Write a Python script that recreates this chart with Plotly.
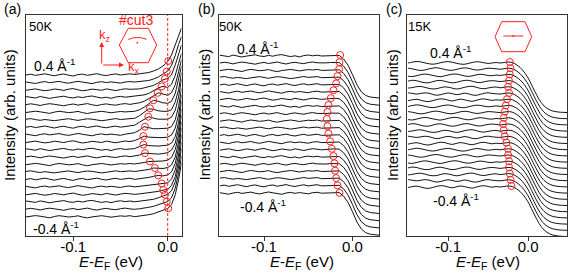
import plotly.graph_objects as go

W, H = 568, 274
FONT = "Arial, 'Liberation Sans', sans-serif"

# ---------------- data ----------------
# energy grid of the flat (noisy) part, eV
E_flat = [-0.150, -0.145, -0.140, -0.135, -0.130, -0.125, -0.120, -0.115, -0.110, -0.105,
          -0.100, -0.095, -0.090, -0.085, -0.080, -0.075, -0.070, -0.065, -0.060, -0.055,
          -0.050, -0.045, -0.040]

# hand-read wiggles of the flat part (arb. units)
wig_ab = [
    [0.0, 0.8, -0.4, 0.6, 1.2, 0.2, -0.8, 0.3, 1.0, -0.2, -1.0, 0.4, 0.9, -0.3, 0.5, 1.3, 0.1, -0.6, 0.4, 1.1, 0.0, 0.7, 1.2],
    [0.5, -0.3, -1.0, 0.2, 0.9, -0.2, 0.6, 1.1, 0.0, -0.7, 0.3, 1.2, 0.4, -0.5, -1.1, 0.2, 0.8, -0.1, 0.6, 0.0, -0.6, 0.5, 0.9],
    [-0.4, 0.6, 1.0, 0.0, -0.8, -0.2, 0.9, 0.3, -0.5, 0.7, 1.3, 0.1, -0.9, -0.2, 0.8, 0.2, -0.4, 1.0, 0.5, -0.7, 0.3, 1.1, 0.6],
    [0.8, 0.1, -0.6, 0.9, 0.2, -1.0, -0.1, 0.7, 1.2, 0.0, -0.5, 0.6, -0.2, 0.9, 1.4, 0.3, -0.6, 0.2, -0.9, 0.4, 1.0, 0.2, 0.8],
    [0.2, 1.0, 0.3, -0.7, 0.4, 1.1, 0.5, -0.4, -1.0, 0.1, 0.8, -0.3, 0.5, 1.2, 0.0, -0.8, 0.3, 0.9, 0.1, -0.4, 0.6, 1.2, 0.4],
    [-0.2, 0.4, 1.1, 0.5, -0.6, -1.1, 0.2, 1.0, 0.4, -0.3, 0.1, 0.9, -0.4, -1.2, -0.2, 0.7, 1.0, 0.3, -0.5, 0.2, 0.8, 0.4, 1.0],
    [0.6, 1.2, 0.2, -0.5, 0.3, 0.0, -0.9, -0.2, 0.6, 1.1, 0.2, -0.6, 0.3, 1.0, 0.6, -0.2, -0.9, -0.3, 0.7, 1.2, 0.3, 0.5, 1.1],
]
wig_c = [
    [0.0, 0.8, 1.5, 1.2, 0.3, -0.6, -1.2, -0.8, 0.2, 1.0, 1.4, 0.8, -0.2, -1.0, -1.3, -0.5, 0.5, 1.2, 1.0, 0.2, -0.4, 0.0, 0.5],
    [1.0, 0.4, -0.5, -1.2, -0.9, 0.1, 1.0, 1.5, 0.9, -0.1, -0.9, -1.1, -0.3, 0.7, 1.3, 1.0, 0.0, -0.8, -0.6, 0.3, 1.0, 0.8, 0.4],
    [-0.8, -1.2, -0.4, 0.6, 1.3, 1.0, 0.1, -0.7, -1.3, -0.6, 0.4, 1.2, 1.4, 0.6, -0.4, -1.0, -0.5, 0.5, 1.1, 0.7, -0.1, -0.3, 0.3],
    [0.5, 1.3, 1.0, -0.1, -1.0, -1.2, -0.3, 0.8, 1.2, 0.5, -0.5, -1.2, -0.8, 0.3, 1.1, 1.3, 0.4, -0.6, -1.0, -0.2, 0.6, 0.9, 0.6],
    [-0.3, 0.2, 1.0, 1.4, 0.7, -0.4, -1.1, -1.0, 0.0, 0.9, 0.6, -0.3, -1.2, -0.7, 0.4, 1.2, 1.5, 0.6, -0.5, -0.9, -0.2, 0.5, 0.8],
    [1.2, 0.6, 0.0, 0.4, 1.1, 0.9, -0.2, -1.2, -0.8, 0.3, 1.0, 0.4, -0.6, -0.2, 0.8, 0.3, -0.9, -1.3, -0.4, 0.7, 1.2, 0.6, 0.2],
    [-0.5, 0.3, 0.9, 0.2, -0.9, -1.4, -0.6, 0.5, 1.3, 1.1, 0.0, -0.8, 0.1, 1.0, 0.5, -0.5, -1.1, -0.2, 0.9, 1.3, 0.5, -0.2, 0.4],
]

# ---- panel (a): 50K, #cut3 ----
E_near_a = [-0.035, -0.030, -0.025, -0.020, -0.015, -0.010, -0.005, 0.000, 0.004, 0.008, 0.0115, 0.0146]
lvl_a = [161.0, 153.5, 146.1, 138.6, 131.2, 123.7, 116.2, 108.8, 101.3, 93.9,
         86.4, 78.9, 71.5, 64.0, 56.6, 49.1, 41.6, 34.2, 26.7, 19.3]
near_a = [
    [0.5, 1, 1.5, 2.5, 4, 6, 9, 13.5, 20, 30, 40, 47],
    [0.5, 1, 1.5, 2, 3.5, 5.5, 8.5, 11.5, 17, 27, 38, 46],
    [0.5, 1, 2, 3, 4.5, 7, 10, 11.5, 15, 25, 36, 45],
    [1, 1.5, 2.5, 4, 6.5, 9.5, 11, 10, 13, 22, 34, 44],
    [1, 2, 3.5, 6, 9, 12, 11, 9.5, 12, 20, 33, 45],
    [1, 2.5, 5, 8.5, 12, 11, 9.5, 9, 11, 19, 32, 46],
    [1.5, 4, 7.5, 11, 10.5, 9, 8.5, 8.5, 10, 18, 30, 47],
    [2, 5, 8, 10.5, 9, 8, 8, 8, 10, 17, 30, 48],
    [2, 4.5, 8, 7, 6, 6, 6, 6.5, 8, 15, 28, 46],
    [1.5, 3.5, 6, 5, 4.5, 4.5, 4.5, 5, 7, 14, 27, 47],
    [1, 3, 5, 4, 3.5, 3.5, 4, 4.5, 6.5, 13, 27, 48],
    [1, 2, 4, 3.5, 3, 3, 3.5, 4.5, 7, 14, 28, 48],
    [0.5, 1, 2, 3, 3, 3, 3.5, 4.5, 7, 15, 29, 49],
    [0.5, 1, 1.5, 2.5, 4, 3.5, 3.5, 4.5, 7, 15, 30, 50],
    [0, 0.5, 1, 2, 3, 4, 3.5, 4.5, 7.5, 16, 31, 51],
    [0, 0.5, 1, 1.5, 2, 3, 3.5, 4, 8, 17, 32, 52],
    [0, 0.5, 1, 1.5, 2, 3, 4.3, 5, 9, 18, 33, 52],
    [0, 0.5, 1, 1.5, 2.5, 4, 6, 7.5, 11, 20, 35, 53],
    [0, 0.5, 1, 2, 3, 4.5, 6.5, 7.8, 11.5, 21, 36, 53],
    [0, 0.5, 1, 2, 3, 4.5, 6.5, 8.2, 12, 22, 37, 54],
]
mk_E_a = [0.0006, -0.0010, -0.0030, -0.0064, -0.0106, -0.0153, -0.0188, -0.0206, -0.0240, -0.0258,
          -0.0258, -0.0240, -0.0188, -0.0135, -0.0100, -0.0064, -0.0047, -0.0029, -0.0010, 0.0006]
mk_h_a = [14, 11, 11, 11, 12, 12, 11.5, 10.5, 8, 6, 5, 4, 3, 4, 4, 3.5, 4.4, 7, 7.6, 8.4]

# ---- panel (b): 50K ----
E_near_b = [-0.035, -0.030, -0.025, -0.020, -0.015, -0.010, -0.005, 0.000, 0.005, 0.010, 0.015, 0.020, 0.025, 0.030]
lvl_b = [180.0, 172.8, 165.6, 158.3, 151.1, 143.9, 136.7, 129.5, 122.2, 115.0,
         107.8, 100.6, 93.4, 86.2, 78.9, 71.7, 64.5, 57.3, 50.1, 42.8]
prof_b = [0.0, 0.3, 0.7, 1.0, 0.6, -3.0, -9.2, -18.5, -28.7, -35.8, -39.5, -41.0, -41.7, -42.0]
mk_E_b = [-0.0139, -0.0147, -0.0151, -0.0170, -0.0185, -0.0215, -0.0245, -0.0272, -0.0283, -0.0290,
          -0.0283, -0.0272, -0.0253, -0.0233, -0.0215, -0.0204, -0.0196, -0.0185, -0.0170, -0.0147]
mk_h_b = [1.0, 1.0, 1.2, 1.5, 1.5, 1.8, 1.2, 1.5, 1.8, 2.0, 2.0, 1.8, 1.2, 1.0, 1.0, 1.0, 0.8, 0.6, 0.5, 0.3]

# ---- panel (c): 15K ----
E_near_c = [-0.035, -0.030, -0.025, -0.020, -0.015, -0.010, -0.005, 0.000, 0.005, 0.010,
            0.015, 0.020, 0.025, 0.030, 0.035, 0.040, 0.049]
lvl_c = [173.0, 166.8, 160.6, 154.4, 148.2, 142.0, 135.8, 129.6, 123.4, 117.2,
         111.0, 104.8, 98.6, 92.4, 86.2, 80.0, 73.8, 67.6, 61.4, 55.2, 49.0]
prof_c = [0.0, 0.5, 1.0, 0.5, -1.5, -4.5, -9.0, -15.0, -23.0, -31.0, -38.0, -43.0, -46.0, -47.8, -48.7, -49.2, -49.5]
mk_E_c = [-0.0229, -0.0220, -0.0229, -0.0238, -0.0250, -0.0238, -0.0263, -0.0279, -0.0291, -0.0304,
          -0.0313, -0.0304, -0.0291, -0.0270, -0.0250, -0.0250, -0.0238, -0.0238, -0.0229, -0.0220, -0.0208]
mk_h_c = [1.0] * 21

x_ranges = [[-0.1500, 0.0146], [-0.1506, 0.0300], [-0.1510, 0.0490]]
tick_vals = [-0.1, 0.0]
tick_text = ["-0.1", "0.0"]

# ---------------- figure ----------------
fig = go.Figure()

def add_panel(axn, levels, wigs, E_near, nears, mkE, mkh, spline=False):
    xs, ys = [], []
    for i, lv in enumerate(levels):
        w = wigs[i % len(wigs)]
        nr = nears[i] if isinstance(nears[0], list) else nears
        xs += E_flat + E_near + [None]
        ys += [lv + v for v in w] + [lv + v for v in nr] + [None]
    suffix = "" if axn == 1 else str(axn)
    fig.add_trace(go.Scatter(
        x=xs, y=ys, mode="lines", xaxis="x" + suffix, yaxis="y" + suffix,
        line=dict(color="#111111", width=1, shape="spline" if spline else "linear",
                  smoothing=0.8 if spline else None),
        hoverinfo="skip", showlegend=False))
    fig.add_trace(go.Scatter(
        x=mkE, y=[lv + h for lv, h in zip(levels, mkh)], mode="markers",
        xaxis="x" + suffix, yaxis="y" + suffix,
        marker=dict(symbol="circle-open", size=7, color="#ff2020", line=dict(width=1, color="#ff2020")),
        hoverinfo="skip", showlegend=False))

add_panel(1, lvl_a, wig_ab, E_near_a, near_a, mk_E_a, mk_h_a)
add_panel(2, lvl_b, wig_ab[3:] + wig_ab[:3], E_near_b, prof_b, mk_E_b, mk_h_b)
add_panel(3, lvl_c, wig_c, E_near_c, prof_c, mk_E_c, mk_h_c, spline=True)

def px(x):
    return x / W

def py(y):
    return 1 - y / H

ydom = [py(236), py(15)]
xdoms = [[px(26), px(181.5)], [px(219.3), px(379)], [px(407.3), px(567.3)]]

layout = dict(width=W, height=H, margin=dict(l=0, r=0, t=0, b=0),
              paper_bgcolor="white", plot_bgcolor="white",
              font=dict(family=FONT, color="black"), showlegend=False)
for k in range(3):
    s = "" if k == 0 else str(k + 1)
    layout["xaxis" + s] = dict(domain=xdoms[k], range=x_ranges[k], anchor="y" + s,
                               showline=True, mirror=True, linecolor="#333", linewidth=1,
                               ticks="outside", ticklen=4, tickcolor="#333", tickwidth=1,
                               tickvals=tick_vals, ticktext=tick_text, ticklabelstandoff=-7,
                               tickfont=dict(size=15, family=FONT, color="black"),
                               showgrid=False, zeroline=False, fixedrange=True)
    layout["yaxis" + s] = dict(domain=ydom, range=[0, 221], anchor="x" + s,
                               showline=True, mirror=True, linecolor="#333", linewidth=1,
                               showticklabels=False, ticks="", showgrid=False, zeroline=False,
                               fixedrange=True)
fig.update_layout(**layout)

RED = "#ff2020"
ann = []

def txt(t, x, y, size, color="black", **kw):
    d = dict(text=t, x=px(x), y=py(y), xref="paper", yref="paper", showarrow=False,
             font=dict(size=size, color=color, family=FONT), xanchor="center", yanchor="middle")
    d.update(kw)
    ann.append(d)

# panel letters
txt("(a)", 12.5, 8.5, 14)
txt("(b)", 206, 8.5, 14)
txt("(c)", 394, 8.5, 14)
# temperatures
txt("50K", 40.5, 26.7, 13)
txt("50K", 230.3, 26.7, 13)
txt("15K", 419.3, 26.7, 13)
# momentum labels
kp = "0.4 Å<sup>-1</sup>"
km = "-0.4 Å<sup>-1</sup>"
txt(kp, 54.5, 64.5, 14)
txt(km, 56, 228, 14)
txt(kp, 257.8, 47.5, 14)
txt(km, 263.3, 206, 14)
txt(kp, 450.3, 52, 14)
txt(km, 455.8, 200, 14)
# axis titles
xt = "<i>E</i>-<i>E</i><sub>F</sub> (eV)"
txt(xt, 111, 262, 15)
txt(xt, 302, 262, 15)
txt(xt, 487.5, 262, 15)
yt = "Intensity (arb. units)"
txt(yt, 9, 115, 15, textangle=-90)
txt(yt, 203.5, 115, 15, textangle=-90)
txt(yt, 392, 115, 15, textangle=-90)
# inset (a)
txt("#cut3", 135.5, 20, 14, RED)
txt("k<sub>z</sub>", 104.5, 35, 13, RED)
txt("k<sub>x</sub>", 134, 67, 13, RED)
ann.append(dict(x=px(101.7), y=py(42), xref="paper", yref="paper", ax=0, ay=23, text="",
                showarrow=True, arrowhead=2, arrowsize=1, arrowwidth=1, arrowcolor=RED))
ann.append(dict(x=px(124), y=py(65), xref="paper", yref="paper", ax=-22.3, ay=0, text="",
                showarrow=True, arrowhead=2, arrowsize=1, arrowwidth=1, arrowcolor=RED))
fig.update_layout(annotations=ann)

def path(pts, close=True):
    s = "M " + " L ".join(f"{px(x):.5f},{py(y):.5f}" for x, y in pts)
    return s + (" Z" if close else "")

shapes = []
shapes.append(dict(type="path", xref="paper", yref="paper", line=dict(color=RED, width=1),
                   path=path([(128.3, 28.3), (148.3, 28.3), (156.7, 45), (148.3, 62.7), (128.3, 62.7), (119.3, 45)])))
shapes.append(dict(type="path", xref="paper", yref="paper", line=dict(color=RED, width=1),
                   path=f"M {px(128.3):.5f},{py(39.5):.5f} Q {px(137):.5f},{py(35.5):.5f} {px(146.5):.5f},{py(39.3):.5f}"))
shapes.append(dict(type="circle", xref="paper", yref="paper", fillcolor=RED, line=dict(color=RED, width=0),
                   x0=px(136.5), x1=px(138.2), y0=py(43.5), y1=py(41.8)))
shapes.append(dict(type="path", xref="paper", yref="paper", line=dict(color=RED, width=1),
                   path=path([(501.7, 21.7), (525, 21.7), (531.7, 36.7), (525, 51.7), (501.7, 51.7), (495, 36.7)])))
shapes.append(dict(type="line", xref="paper", yref="paper", line=dict(color=RED, width=1),
                   x0=px(503.3), x1=px(523.3), y0=py(36), y1=py(36)))
shapes.append(dict(type="circle", xref="paper", yref="paper", fillcolor=RED, line=dict(color=RED, width=0),
                   x0=px(512.4), x1=px(514.2), y0=py(36.9), y1=py(35.1)))
shapes.append(dict(type="line", xref="x", yref="paper", x0=0, x1=0, y0=ydom[0], y1=ydom[1],
                   line=dict(color=RED, width=1, dash="3px,2px")))
fig.update_layout(shapes=shapes)

fig.write_html("out.html", config={"displayModeBar": False, "staticPlot": True},
               post_script="document.body.style.margin='0';document.body.style.overflow='hidden';")
